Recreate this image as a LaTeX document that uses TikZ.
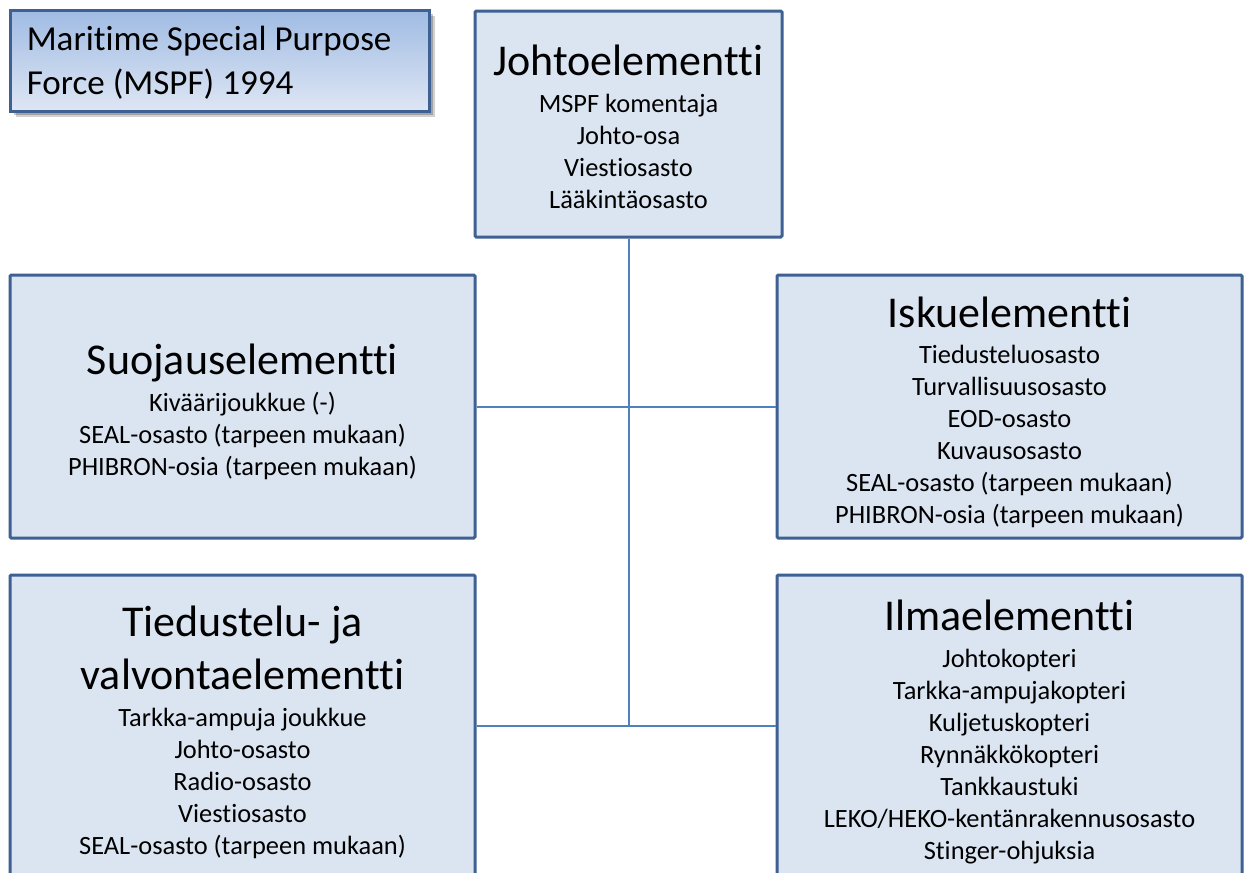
\documentclass[tikz,border=0pt]{standalone}
\usepackage{fontspec}
\setmainfont{Carlito}[Ligatures={NoCommon,NoContextual}]
\usetikzlibrary{shadows}
\definecolor{boxborder}{RGB}{62,96,146}
\definecolor{boxfill}{RGB}{219,229,241}
\definecolor{conncolor}{RGB}{79,129,189}
\definecolor{titletop}{RGB}{160,187,227}
\definecolor{titlebot}{RGB}{222,230,244}
\newcommand\subf{\fontsize{19.8}{24}\selectfont}
\newcommand\headf{\fontsize{33}{40}\selectfont}
\newcommand\titlef{\fontsize{26.3}{33}\selectfont}
\tikzset{
  box/.style={draw=boxborder, line width=2.25pt, fill=boxfill, inner sep=0pt, rounded corners=1pt},
  boxtext/.style={align=center, font=\subf, inner sep=0pt},
  conn/.style={draw=conncolor, line width=1.5pt},
  titlebox/.style={draw=boxborder, line width=2.25pt, top color=titletop, bottom color=titlebot,
    inner sep=0pt, minimum width=314.25pt, minimum height=75.75pt,
    general shadow={fill=black, opacity=0.22, shadow xshift=1.5pt, shadow yshift=-1.5pt},
    general shadow={fill=black, opacity=0.22, shadow xshift=3pt, shadow yshift=-3pt},
    general shadow={fill=black, opacity=0.18, shadow xshift=4.5pt, shadow yshift=-4.5pt}},
  titletext/.style={align=left, font=\titlef, inner sep=0pt},
}
\begin{document}
\begin{tikzpicture}[x=0.75pt, y=-0.75pt]
\useasboundingbox[fill=white] (0,0) rectangle (1248,872);

\node[titlebox] (title) at (219.5,60.5) {};
\node[titletext, anchor=west] (titleT) at ([xshift=13.5pt,yshift=-1.5pt]title.west)
  {Maritime Special Purpose\\Force (MSPF) 1994};

\node[box, minimum width=230.25pt, minimum height=169.5pt] (johto) at (628.5,124) {};
\node[boxtext] (johtoT) at ([yshift=-2.25pt]johto.center)
  {{\headf Johtoelementti}\\[3.5pt]MSPF komentaja\\Johto-osa\\Viestiosasto\\Lääkintäosasto};

\node[box, minimum width=348.75pt, minimum height=197.25pt] (suoj) at (242.5,406.5) {};
\node[boxtext] (suojT) at ([yshift=-4pt]suoj.center)
  {{\headf Suojauselementti}\\[3.5pt]Kiväärijoukkue (-)\\SEAL-osasto (tarpeen mukaan)\\PHIBRON-osia (tarpeen mukaan)};

\node[box, minimum width=348.75pt, minimum height=197.25pt] (isku) at (1009.5,406.5) {};
\node[boxtext] (iskuT) at ([yshift=-4.5pt]isku.center)
  {{\headf Iskuelementti}\\[3.5pt]Tiedusteluosasto\\Turvallisuusosasto\\EOD-osasto\\Kuvausosasto\\SEAL-osasto (tarpeen mukaan)\\PHIBRON-osia (tarpeen mukaan)};

\node[box, minimum width=348.75pt, minimum height=226.5pt] (tied) at (242.5,726) {};
\node[boxtext] (tiedT) at ([yshift=-4.5pt]tied.center)
  {{\headf Tiedustelu- ja}\\[10.5pt]{\headf valvontaelementti}\\[3.5pt]Tarkka-ampuja joukkue\\Johto-osasto\\Radio-osasto\\Viestiosasto\\SEAL-osasto (tarpeen mukaan)};

\node[box, minimum width=348.75pt, minimum height=226.5pt] (ilma) at (1009.5,726) {};
\node[boxtext] (ilmaT) at ([yshift=-4.5pt]ilma.center)
  {{\headf Ilmaelementti}\\[3.5pt]Johtokopteri\\Tarkka-ampujakopteri\\Kuljetuskopteri\\Rynnäkkökopteri\\Tankkaustuki\\LEKO/HEKO-kentänrakennusosasto\\Stinger-ohjuksia};

\draw[conn] (johto.south) -- (johto.south |- tied.east);
\draw[conn] (suoj.east) -- (isku.west);
\draw[conn] (tied.east) -- (ilma.west);
\end{tikzpicture}
\end{document}
